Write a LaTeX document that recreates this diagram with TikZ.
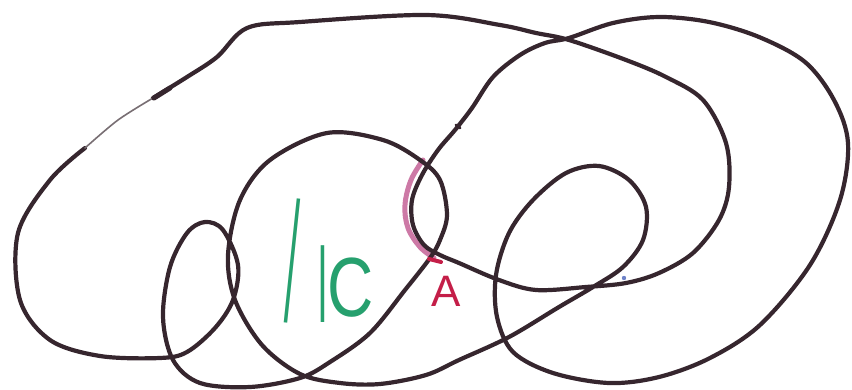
\documentclass[tikz,border=0pt]{standalone}
\usepackage{fontspec}
\usepackage{graphicx}
\setsansfont{Liberation Sans}
\definecolor{knotdark}{RGB}{54,38,46}
\definecolor{knotthin}{RGB}{120,110,115}
\definecolor{markpink}{RGB}{196,98,150}
\definecolor{markred}{RGB}{196,30,72}
\definecolor{labelgreen}{RGB}{38,160,110}
\definecolor{dotblue}{RGB}{110,130,200}
\begin{document}
\begin{tikzpicture}[x=1pt, y=-1pt]
\tikzstyle{strand} = [line width=4.2pt, draw=knotdark, line cap=round, line join=round]
\tikzstyle{faint} = [line width=1.6pt, draw=knotthin, line cap=round]
\tikzstyle{highlight} = [line width=5pt, draw=markpink, opacity=0.85, line cap=round]

\useasboundingbox (0,0) rectangle (852,390);

% pink arc beside the crossing
\draw [highlight] plot [smooth, tension=0.6] coordinates {(423,160) (411,180) (405,205) (408,228) (420,247) (434,258)};

% the knot strand
\draw [strand] plot [smooth, tension=0.55] coordinates {
  (153,98) (187,77) (217,57) (247,28) (300,22) (426,15) (500,25) (536,33) (569,40)
  (626,60) (666,77) (703,100) (726,143) (729,187) (719,220) (693,253) (659,273)
  (626,283) (586,287) (536,290) (499,280) (459,263) (440,255) (424,245) (413,225)
  (412,200) (422,175) (438,150) (455,130) (472,108) (493,77) (520,55) (545,43)
  (569,38) (613,23) (659,17) (709,22) (759,37) (805,62) (834,100) (848,143)
  (840,200) (810,265) (760,325) (710,358) (659,377) (609,383) (553,373) (513,352)
  (497,317) (496,275) (509,233) (533,200) (566,173) (599,166) (629,180) (646,207)
  (643,240) (623,267) (593,287) (559,307) (509,337) (459,360) (426,375) (380,384)
  (340,383) (300,374) (262,345) (235,300) (228,255) (240,200) (270,160) (327,133)
  (383,140) (420,160) (440,180) (447,215) (440,240) (430,258) (405,290) (370,333)
  (330,362) (300,378) (250,387) (200,383) (173,360) (163,317) (170,267) (187,233)
  (205,222) (223,230) (238,265) (233,300) (215,328) (187,352) (160,358) (100,356)
  (50,340) (20,300) (18,233) (50,180) (85,148)};
\draw [faint] plot [smooth] coordinates {(85,148) (118,120) (153,98)};

% pen marks
\draw [strand, line width=5pt] (154,98) -- (170,88);
\draw [strand, line width=3pt] (456,125) -- (460,128);
\draw [line width=4pt, markred, line cap=round] (429,259) -- (441,262);
\fill [dotblue] (624,278) circle (2.2);

% labels
\node [anchor=base west, text=labelgreen, font=\sffamily\fontsize{40}{40}\selectfont, inner sep=0pt] (lattice) at (281,323)
  {\rotatebox{-6}{\scalebox{1}[4.3]{l}}\hspace{15pt}\scalebox{1}[2.65]{l}\hspace{1pt}\raisebox{6pt}{\scalebox{1.6}[2.1]{C}}};
\node [text=markred, font=\sffamily\fontsize{44}{44}\selectfont, inner sep=0pt] (pointA) at (446,291) {A};
\end{tikzpicture}
\end{document}
